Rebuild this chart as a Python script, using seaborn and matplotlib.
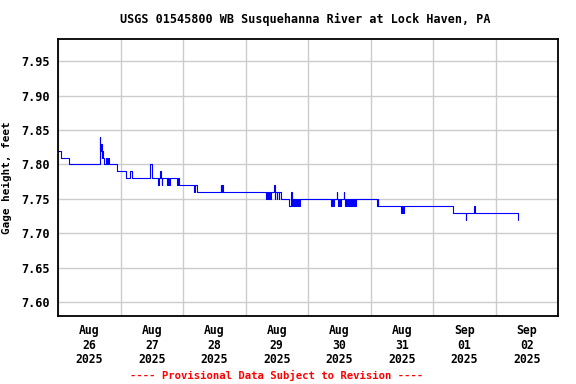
import pandas as pd
import seaborn as sns
import matplotlib
matplotlib.use('Agg')
import matplotlib.pyplot as plt
import matplotlib.dates as mdates

# --- data: 15-min gage height, only the change points (step series) ---
times = [
    '08-26 00:00', '08-26 01:15', '08-26 04:15', '08-26 16:00', '08-26 16:15', '08-26 16:30',
    '08-26 16:45', '08-26 17:00', '08-26 17:15', '08-26 17:45', '08-26 18:15', '08-26 18:45',
    '08-26 19:15', '08-26 19:30', '08-26 22:45',
    '08-27 02:00', '08-27 03:45', '08-27 04:15', '08-27 11:15', '08-27 11:30', '08-27 12:15',
    '08-27 14:30', '08-27 14:45', '08-27 15:15', '08-27 15:30', '08-27 15:45', '08-27 16:00',
    '08-27 18:00', '08-27 18:15', '08-27 18:45', '08-27 19:00', '08-27 21:45', '08-27 22:00',
    '08-27 22:30',
    '08-28 04:15', '08-28 04:45', '08-28 05:15', '08-28 14:30', '08-28 14:45', '08-28 15:00',
    '08-28 15:30',
    '08-29 08:00', '08-29 08:15', '08-29 08:45', '08-29 09:00', '08-29 09:30', '08-29 09:45',
    '08-29 11:00', '08-29 11:15', '08-29 11:30', '08-29 12:00', '08-29 12:15', '08-29 12:45',
    '08-29 13:00', '08-29 13:30', '08-29 16:45', '08-29 17:30', '08-29 17:45', '08-29 18:00',
    '08-29 18:15', '08-29 18:45', '08-29 19:00', '08-29 19:30', '08-29 19:45', '08-29 20:15',
    '08-29 20:30', '08-29 21:00',
    '08-30 09:00', '08-30 09:15', '08-30 09:45', '08-30 10:00', '08-30 11:00', '08-30 11:15',
    '08-30 11:30', '08-30 11:45', '08-30 12:15', '08-30 12:30', '08-30 13:45', '08-30 14:00',
    '08-30 14:15', '08-30 14:30', '08-30 15:00', '08-30 15:15', '08-30 15:45', '08-30 16:00',
    '08-30 16:30', '08-30 16:45', '08-30 17:15', '08-30 17:30', '08-30 18:00', '08-30 18:15',
    '08-31 02:30', '08-31 02:45', '08-31 03:00', '08-31 11:45', '08-31 12:15', '08-31 12:30',
    '08-31 13:00',
    '09-01 07:30', '09-01 12:30', '09-01 12:45', '09-01 15:45', '09-01 16:00',
    '09-02 08:30', '09-02 08:45',
]
gage_ft = [
    7.82, 7.81, 7.80, 7.84, 7.82, 7.83,
    7.81, 7.82, 7.81, 7.80, 7.81, 7.80,
    7.81, 7.80, 7.79,
    7.78, 7.79, 7.78, 7.79, 7.80, 7.78,
    7.77, 7.78, 7.79, 7.78, 7.77, 7.78,
    7.77, 7.78, 7.77, 7.78, 7.77, 7.78,
    7.77,
    7.76, 7.77, 7.76, 7.77, 7.76, 7.77,
    7.76,
    7.75, 7.76, 7.75, 7.76, 7.75, 7.76,
    7.77, 7.75, 7.76, 7.75, 7.76, 7.75,
    7.76, 7.75, 7.74, 7.76, 7.74, 7.75,
    7.74, 7.75, 7.74, 7.75, 7.74, 7.75,
    7.74, 7.75,
    7.74, 7.75, 7.74, 7.75, 7.76, 7.75,
    7.74, 7.75, 7.74, 7.75, 7.76, 7.75,
    7.74, 7.75, 7.74, 7.75, 7.74, 7.75,
    7.74, 7.75, 7.74, 7.75, 7.74, 7.75,
    7.74, 7.75, 7.74, 7.73, 7.74, 7.73,
    7.74,
    7.73, 7.72, 7.73, 7.74, 7.73,
    7.72, 7.72,
]
y_ticks = [7.60, 7.65, 7.70, 7.75, 7.80, 7.85, 7.90, 7.95]

df = pd.DataFrame({'time': pd.to_datetime(['2025-' + t for t in times]),
                   'gage': gage_ft})

sns.set_theme(style='white')
mono = ['DejaVu Sans Mono']

fig = plt.figure(figsize=(5.76, 3.84), dpi=100)
ax = fig.add_axes([58 / 576, 1 - 316 / 384, 500 / 576, 277 / 384])

sns.lineplot(data=df, x='time', y='gage', ax=ax, color='#0000ff', linewidth=0.8,
             drawstyle='steps-post', estimator=None, sort=False)

ax.set_xlim(pd.Timestamp('2025-08-26'), pd.Timestamp('2025-09-03'))
ax.set_ylim(7.58, 7.982)
ax.set_yticks(y_ticks)
ax.set_yticklabels([f'{v:.2f}' for v in y_ticks], family=mono, fontsize=8.6, weight='bold')

# labels at noon, grid at midnight
ax.xaxis.set_major_locator(mdates.HourLocator(byhour=12))
ax.xaxis.set_major_formatter(mdates.DateFormatter('%b\n%d\n%Y'))
ax.xaxis.set_minor_locator(mdates.DayLocator())
for lab in ax.get_xticklabels():
    lab.set_family(mono)
    lab.set_fontsize(8.3)
    lab.set_fontweight('bold')
    lab.set_linespacing(1.15)

ax.grid(False)
ax.grid(True, which='minor', axis='x', color='#cccccc', linewidth=1)
ax.grid(True, which='major', axis='y', color='#cccccc', linewidth=1)
ax.tick_params(axis='both', which='both', length=0, pad=6, colors='black')
for s in ax.spines.values():
    s.set_color('black')
    s.set_linewidth(1.3)

ax.set_xlabel('')
ax.set_ylabel('Gage height, feet', family=mono, fontsize=7.9, weight='bold', color='black')
ax.yaxis.set_label_coords(-(58 - 12) / 500, 0.5)

fig.text(305 / 576, 1 - 19 / 384, 'USGS 01545800 WB Susquehanna River at Lock Haven, PA',
         ha='center', va='center', family=mono, fontsize=8.5, weight='bold', color='black')
fig.text(277 / 576, 1 - 375 / 384, '---- Provisional Data Subject to Revision ----',
         ha='center', va='center', family=mono, fontsize=7.7, weight='bold', color='red')

fig.savefig('out.png', dpi=100)
